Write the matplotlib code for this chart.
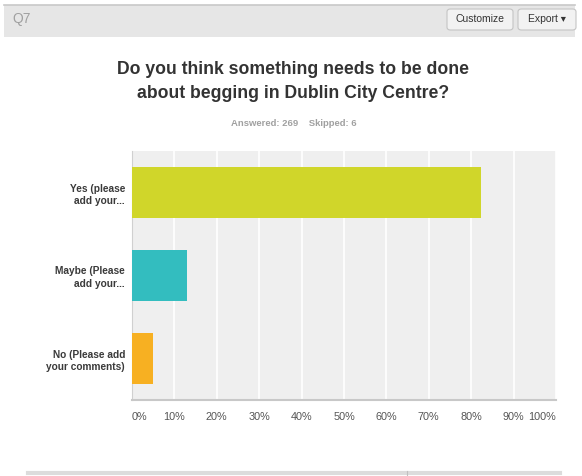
import matplotlib.pyplot as plt
from matplotlib.patches import Rectangle, FancyBboxPatch
from matplotlib.lines import Line2D

# survey answers for Q7
answers = ["Yes (please\nadd your...", "Maybe (Please\nadd your...", "No (Please add\nyour comments)"]
percents = [82.2, 12.9, 4.9]
bar_colors = ["#d0d62a", "#33bdbf", "#f7b022"]
tick_values = [0, 10, 20, 30, 40, 50, 60, 70, 80, 90, 100]
tick_labels = ["0%", "10%", "20%", "30%", "40%", "50%", "60%", "70%", "80%", "90%", "100%"]

plt.rcParams["font.family"] = ["Liberation Sans", "DejaVu Sans"]

W, H = 582, 476
fig = plt.figure(figsize=(W / 100, H / 100), dpi=100)
fig.patch.set_facecolor("white")


def fx(px):
    return px / W


def fy(py):
    return 1 - py / H


# header band with question number and buttons
fig.patches.append(Rectangle((fx(4), fy(37)), fx(571), 32 / H, transform=fig.transFigure,
                             facecolor="#e6e6e6", edgecolor="none", zorder=0))
fig.lines.append(Line2D([fx(4), fx(575)], [fy(5), fy(5)], transform=fig.transFigure,
                        color="#c8c8c8", lw=1.2))
fig.text(fx(12), fy(19), "Q7", fontsize=10, color="#a0a0a0", va="center")

for x0, x1, label in [(447, 513, "Customize"), (518, 576, "Export \u25be")]:
    fig.patches.append(FancyBboxPatch((fx(x0), fy(30)), fx(x1 - x0), 21 / H,
                                      boxstyle="round,pad=0,rounding_size=0.006",
                                      transform=fig.transFigure, facecolor="#f2f2f2",
                                      edgecolor="#c4c4c4", lw=0.8))
    fig.text(fx((x0 + x1) / 2), fy(19.5), label, fontsize=7.5, color="#333333",
             ha="center", va="center")

# title and response counts
fig.text(fx(293), fy(69), "Do you think something needs to be done", fontsize=12.7,
         fontweight="bold", color="#333333", ha="center", va="center")
fig.text(fx(293), fy(93), "about begging in Dublin City Centre?", fontsize=12.7,
         fontweight="bold", color="#333333", ha="center", va="center")
fig.text(fx(294), fy(124), "Answered: 269    Skipped: 6", fontsize=6.8,
         fontweight="bold", color="#a0a0a0", ha="center", va="center")

# bar chart
ax = fig.add_axes([fx(132), fy(400), fx(556 - 132), (400 - 151) / H])
ax.set_facecolor("#efefef")
ypos = list(range(len(answers)))
ax.barh(ypos, percents, height=0.62, color=bar_colors, zorder=3)
ax.set_xlim(0, 100)
ax.set_ylim(len(answers) - 0.5, -0.5)
ax.set_xticks(tick_values)
ax.set_xticklabels([])
ax.grid(axis="x", color="white", lw=1.2, zorder=1)
ax.tick_params(length=0)
ax.set_yticks(ypos)
ax.set_yticklabels(answers, fontsize=7.3, color="#3a3a3a", fontweight="bold",
                   linespacing=1.35)
ax.tick_params(axis="y", pad=5)
for side in ["top", "right"]:
    ax.spines[side].set_visible(False)
ax.spines["left"].set_color("#d0d0d0")
ax.spines["bottom"].set_color("#c8c8c8")
ax.spines["bottom"].set_linewidth(1.5)

for v, lab in zip(tick_values, tick_labels):
    ha = "left" if v == 0 else ("right" if v == 100 else "center")
    ax.text(v, 1 - (417 - 151) / (400 - 151), lab, transform=ax.get_xaxis_transform(),
            fontsize=7.8, color="#555555", ha=ha, va="center")

# footer rule
fig.lines.append(Line2D([fx(28), fx(560)], [fy(473), fy(473)], transform=fig.transFigure,
                        color="#dcdcdc", lw=3))
fig.lines.append(Line2D([fx(407), fx(407)], [fy(471), fy(476)], transform=fig.transFigure,
                        color="#c0c0c0", lw=0.8))

fig.savefig("out.png", dpi=100)
